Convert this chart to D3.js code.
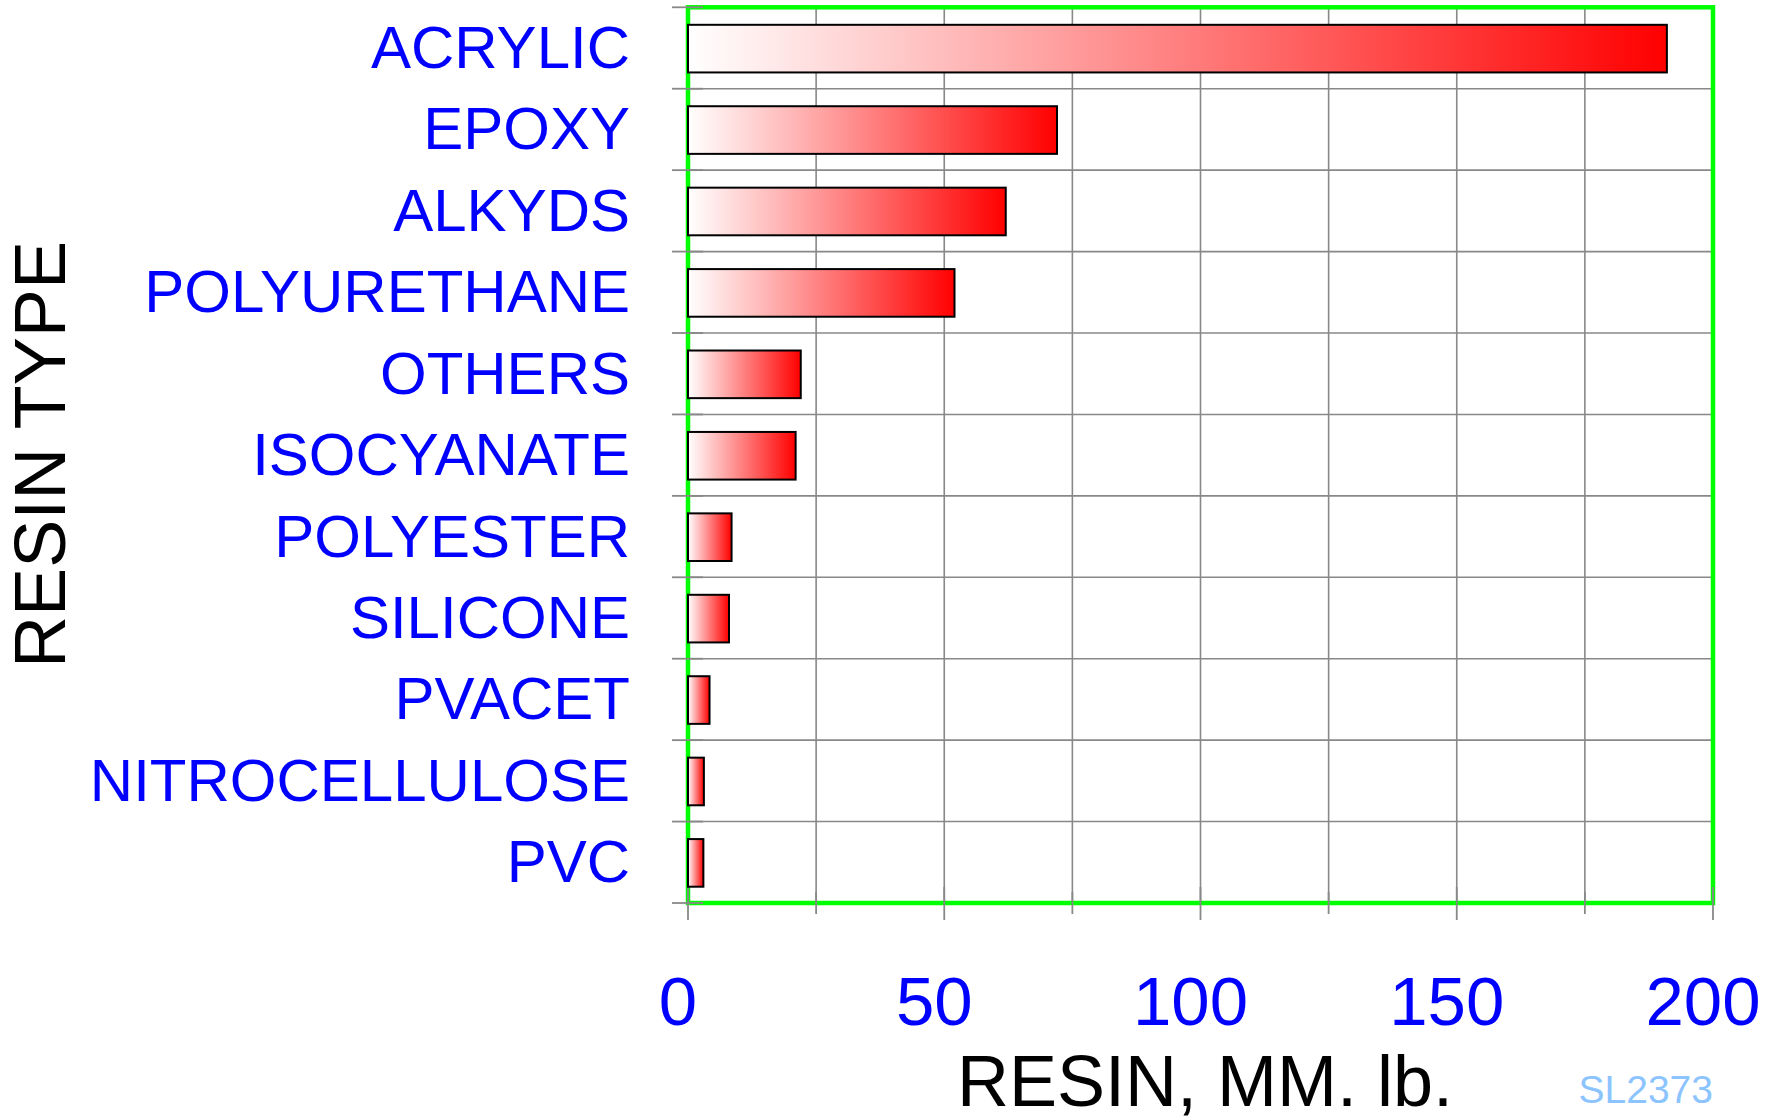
<!DOCTYPE html>
<html>
<head>
<meta charset="utf-8">
<script src="https://cdn.jsdelivr.net/npm/d3@7"></script>
<style>
html,body{margin:0;padding:0;background:#fff;}
svg{display:block;}
text{font-family:"Liberation Sans",Arial,sans-serif;}
</style>
</head>
<body>
<svg id="chart" width="1778" height="1117"></svg>
<script>
const categories = ["ACRYLIC","EPOXY","ALKYDS","POLYURETHANE","OTHERS","ISOCYANATE","POLYESTER","SILICONE","PVACET","NITROCELLULOSE","PVC"];
const values = [191, 72, 62, 52, 22, 21, 8.5, 8, 4.2, 3.1, 3];
const xTicks = [0, 50, 100, 150, 200];
const xMinorTicks = [0, 25, 50, 75, 100, 125, 150, 175, 200];
const xTitle = "RESIN, MM. lb.";
const yTitle = "RESIN TYPE";
const code = "SL2373";

(function(){
const svg = d3.select("#chart");
svg.append("rect").attr("width",1778).attr("height",1117).attr("fill","#fff");

const pL = 688, pR = 1713, pT = 7.3, pB = 903;
const x = d3.scaleLinear().domain([0,200]).range([pL,pR]);
const y = d3.scaleBand().domain(categories).range([pT,pB]).padding(0);

const defs = svg.append("defs");
const grad = defs.append("linearGradient").attr("id","barGrad")
  .attr("x1","0").attr("x2","1").attr("y1","0").attr("y2","0");
grad.append("stop").attr("offset","0").attr("stop-color","#ffffff");
grad.append("stop").attr("offset","1").attr("stop-color","#ff0000");

const grid = svg.append("g");
grid.selectAll("line.v").data(xMinorTicks.filter(d=>d>0 && d<200)).join("line")
  .attr("x1",d=>x(d)).attr("x2",d=>x(d)).attr("y1",pT).attr("y2",pB)
  .attr("stroke","#888").attr("stroke-width",1.6);
const bounds = categories.map(c=>y(c)).concat([pB]);
grid.selectAll("line.h").data(bounds.slice(1,-1)).join("line")
  .attr("x1",pL).attr("x2",pR).attr("y1",d=>d).attr("y2",d=>d)
  .attr("stroke","#888").attr("stroke-width",1.6);

svg.append("rect").attr("x",pL).attr("y",pT).attr("width",pR-pL).attr("height",pB-pT)
  .attr("fill","none").attr("stroke","#00ff00").attr("stroke-width",4.5);

svg.append("g").selectAll("line").data(bounds).join("line")
  .attr("x1",pL-16).attr("x2",pL+15).attr("y1",d=>d).attr("y2",d=>d)
  .attr("stroke","#888").attr("stroke-width",1.8);

svg.append("g").selectAll("line").data(xMinorTicks).join("line")
  .attr("x1",d=>x(d)).attr("x2",d=>x(d))
  .attr("y1",d=>d%50===0 ? pB-16 : pB-11)
  .attr("y2",d=>d%50===0 ? pB+17 : pB+11)
  .attr("stroke","#888").attr("stroke-width",1.8);

const bw = y.bandwidth();
svg.append("g").selectAll("rect").data(categories).join("rect")
  .attr("x",x(0))
  .attr("y",d=>y(d)+bw*0.215)
  .attr("width",(d,i)=>x(values[i])-x(0))
  .attr("height",bw*0.585)
  .attr("fill","url(#barGrad)")
  .attr("stroke","#000").attr("stroke-width",2);

svg.append("g").selectAll("text").data(categories).join("text")
  .attr("x",630).attr("y",d=>y(d)+bw/2+20)
  .attr("text-anchor","end").attr("font-size",60).attr("fill","#0000ff")
  .text(d=>d);

svg.append("g").selectAll("text").data(xTicks).join("text")
  .attr("x",d=>x(d)-10).attr("y",1025)
  .attr("text-anchor","middle").attr("font-size",69).attr("fill","#0000ff")
  .text(d=>d);

svg.append("text").attr("x",1205).attr("y",1106)
  .attr("text-anchor","middle").attr("font-size",72).attr("fill","#000")
  .text(xTitle);

svg.append("text").attr("transform","translate(65,454.5) rotate(-90)")
  .attr("text-anchor","middle").attr("font-size",72).attr("fill","#000")
  .text(yTitle);

svg.append("text").attr("x",1713).attr("y",1103)
  .attr("text-anchor","end").attr("font-size",39).attr("fill","#8cc4ff")
  .text(code);
})();
</script>
</body>
</html>
